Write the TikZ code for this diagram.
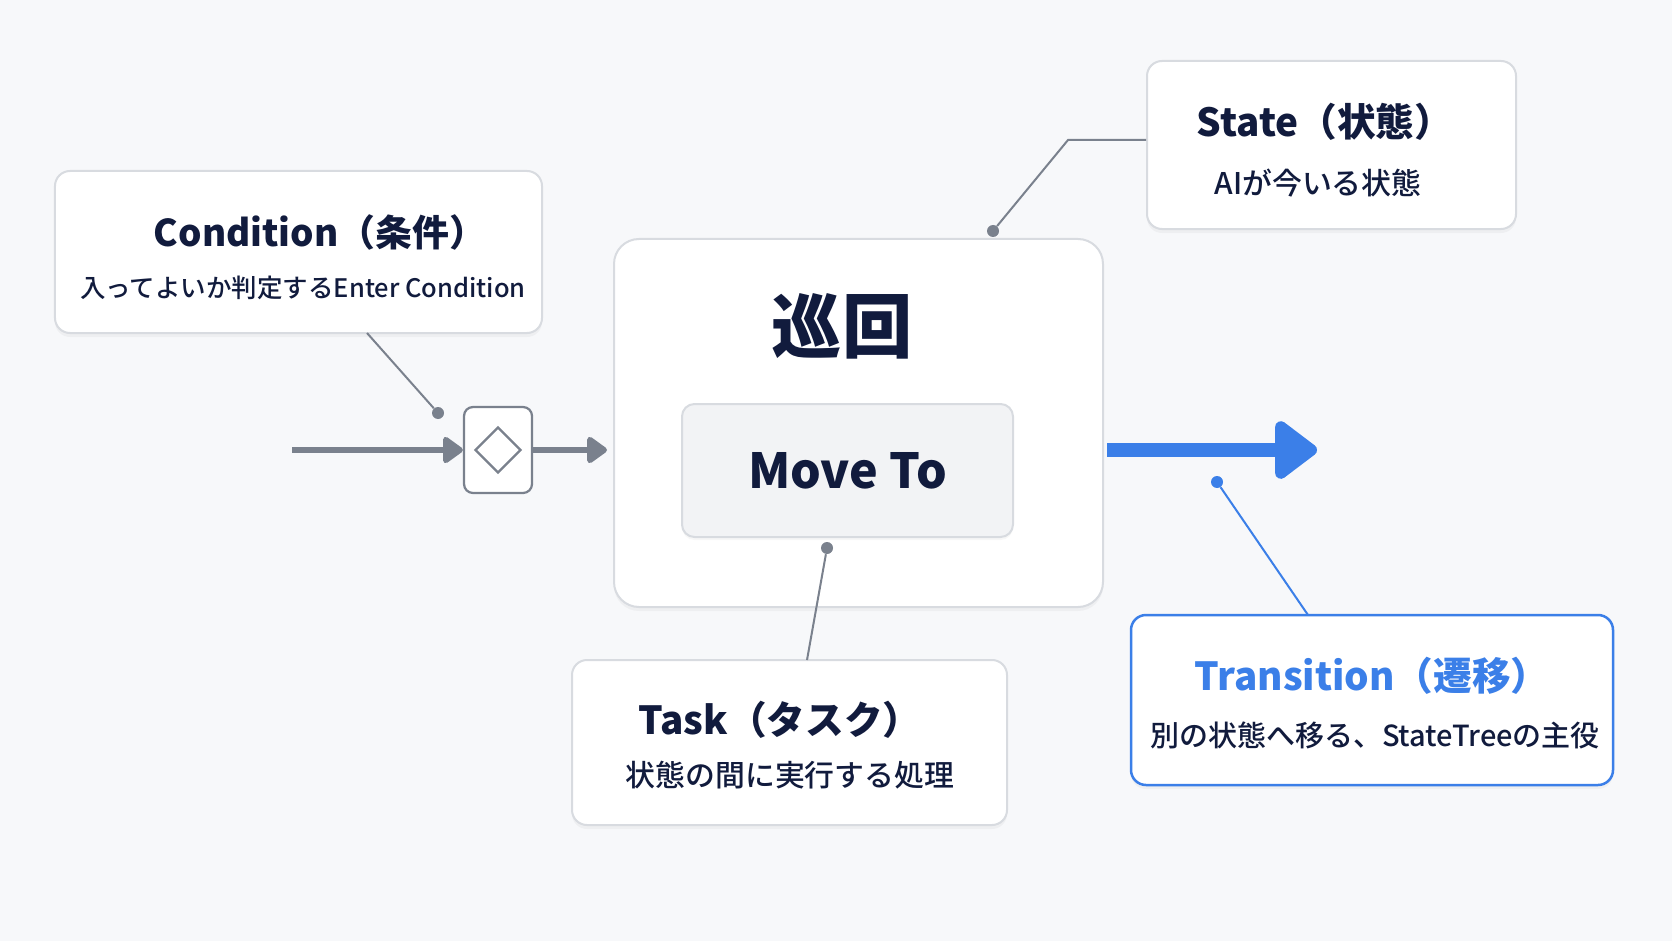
\documentclass[tikz,border=0pt]{standalone}
\usepackage{fontspec}
\setmainfont{Noto Sans CJK JP}
\newfontfamily\medfont{Noto Sans CJK JP Medium}
\usetikzlibrary{arrows.meta, positioning, calc, shadows, shapes.geometric}
\definecolor{ink}{HTML}{111B3D}
\definecolor{tblue}{HTML}{3B7FE8}
\definecolor{leadgray}{HTML}{7A818D}
\definecolor{boxline}{HTML}{D8DBE0}
\definecolor{paper}{HTML}{F7F8FA}
\definecolor{taskfill}{HTML}{F2F3F5}
\tikzset{
  card/.style={draw=boxline, line width=0.4mm, fill=white, rounded corners=3mm, drop shadow={shadow xshift=0mm, shadow yshift=-0.8mm, opacity=0.07}},
  transcard/.style={card, draw=tblue, line width=0.5mm},
  inner/.style={draw=boxline, line width=0.4mm, fill=taskfill, rounded corners=2.5mm, drop shadow={shadow xshift=0mm, shadow yshift=-0.6mm, opacity=0.06}},
  gatebox/.style={draw=leadgray, line width=0.45mm, fill=white, rounded corners=1.8mm},
  gatemark/.style={draw=leadgray, line width=0.45mm, diamond, minimum size=9.2mm, inner sep=0pt},
  title/.style={inner sep=0pt, text=ink, font=\fontsize{22}{26}\selectfont\bfseries},
  sub/.style={inner sep=0pt, text=ink, font=\fontsize{17}{20}\selectfont\medfont},
  dot/.style={circle, fill=leadgray, inner sep=0pt, minimum size=2.4mm},
  lead/.style={draw=leadgray, line width=0.4mm},
  flow/.style={leadgray, line width=1.2mm, -{Triangle[length=4.4mm, width=6mm, round]}},
  trans/.style={tblue, line width=2.8mm, -{Triangle[length=9.2mm, width=13.2mm, round]}}
}

\begin{document}
\begin{tikzpicture}[x=0.2mm,y=-0.2mm]
    \fill[paper] (0,0) rectangle (1672,941);
    \useasboundingbox (0,0) rectangle (1672,941);

    \node[card, minimum width=97.4mm, minimum height=32.4mm] (cond) at (298.5,252) {};
    \node[title, font=\fontsize{21}{25}\selectfont\bfseries] (condtitle) at (320,232) {Condition（条件）};
    \node[sub, font=\fontsize{14.5}{18}\selectfont\medfont] (condtext) at (303,288) {入ってよいか判定するEnter Condition};

    \node[card, minimum width=73.8mm, minimum height=33.6mm] (state) at (1331.5,145) {};
    \node[title] (statetitle) at (1325,122) {State（状態）};
    \node[sub] (statetext) at (1318,183) {AIが今いる状態};

    \node[card, rounded corners=5mm, minimum width=97.8mm, minimum height=73.6mm] (main) at (858.5,423) {};
    \node[inner sep=0pt, text=ink, font=\fontsize{40}{44}\selectfont\bfseries] (patrol) at (842,326) {巡回};
    \node[inner, minimum width=66.2mm, minimum height=26.6mm, text=ink, font=\fontsize{27.5}{32}\selectfont\bfseries] (moveto) at (847.5,470.5) {Move To};

    \node[card, minimum width=87mm, minimum height=33mm] (task) at (789.5,742.5) {};
    \node[title] (tasktitle) at (780,720) {Task（タスク）};
    \node[sub] (tasktext) at (790,775) {状態の間に実行する処理};

    \node[transcard, minimum width=96.4mm, minimum height=34mm] (transbox) at (1372,700) {};
    \node[title, text=tblue] (transtitle) at (1372,676) {Transition（遷移）};
    \node[sub, font=\fontsize{16.5}{20}\selectfont\medfont] (transtext) at (1375,735) {別の状態へ移る、StateTreeの主役};

    \node[gatebox, minimum width=13.6mm, minimum height=17.2mm] (gate) at (498,450) {};
    \node[gatemark] (gatediamond) at (gate) {};

    \coordinate (entry) at (292,450);
    \coordinate (next) at (1317,450);
    \draw[flow] (entry) -- (gate.west);
    \draw[flow, shorten >=1.2mm] (gate.east) -- (main.west |- gate.east);
    \draw[trans, shorten <=0.6mm] (main.east |- next) -- (next);

    \node[dot] (conddot) at (438,413) {};
    \coordinate (condfoot) at (367,333);
    \draw[lead] (condfoot) -- (conddot);

    \node[dot] (statedot) at (993,231) {};
    \coordinate (statebend) at (1068,140);
    \draw[lead] (state.west |- statebend) -- (statebend) -- (statedot);

    \node[dot] (taskdot) at (827,548) {};
    \coordinate (taskhead) at (807,660);
    \draw[lead] (taskdot) -- (taskhead);

    \node[dot, fill=tblue] (transdot) at (1217,482) {};
    \coordinate (transhead) at (1308,615);
    \draw[lead, draw=tblue] (transdot) -- (transhead);
\end{tikzpicture}
\end{document}
